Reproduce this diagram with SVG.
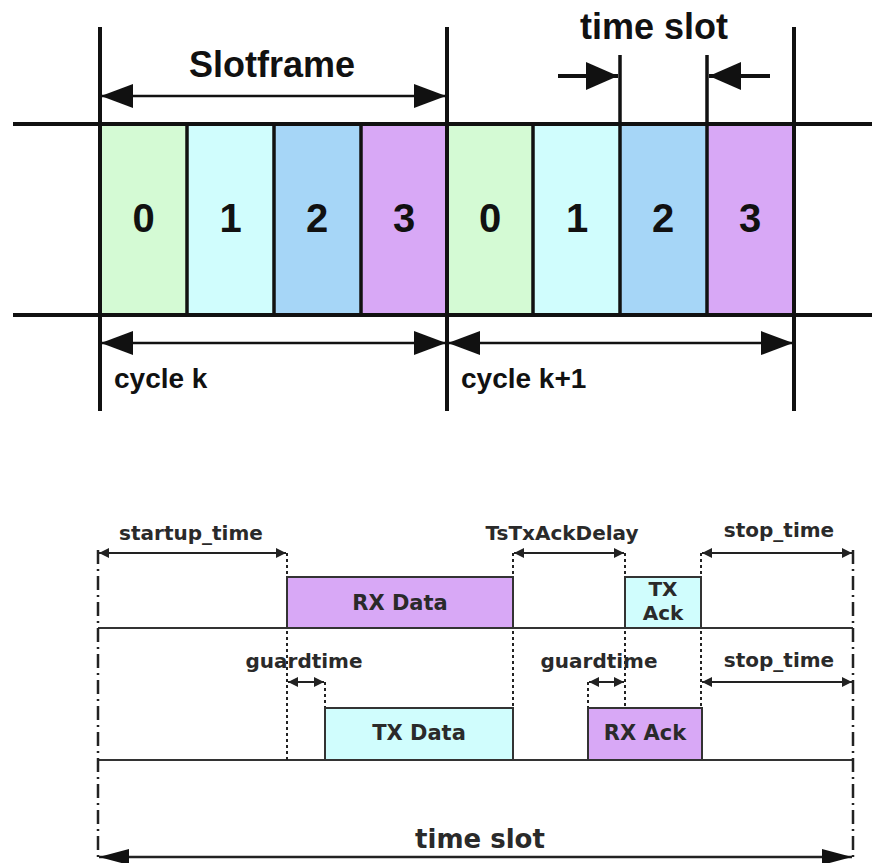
<svg xmlns="http://www.w3.org/2000/svg" width="872" height="863" viewBox="0 0 872 863">
<style>
.bg{fill:#fff}
.c0{fill:#d4fad4}.c1{fill:#d0fdfd}.c2{fill:#a6d6f7}.c3{fill:#d8a8f6}
.div{stroke:#111;stroke-width:3.5}
.big{stroke:#111;stroke-width:4;fill:none}
.top{font-family:"Liberation Sans",Arial,sans-serif;font-weight:bold;fill:#111}
.dig{font-family:"Liberation Sans",Arial,sans-serif;font-weight:bold;font-size:40px;fill:#111;text-anchor:middle}
.shaft{stroke:#111;stroke-width:2.5;fill:none}
.lbl{font-family:"DejaVu Sans",Verdana,sans-serif;font-weight:bold;fill:#2a2a2a}
.box{stroke:#333;stroke-width:2}
.row{stroke:#333;stroke-width:2;fill:none}
.dot{stroke:#222;stroke-width:2;stroke-dasharray:3 3;fill:none}
.dash{stroke:#222;stroke-width:2.5;stroke-dasharray:14 5 2 5;fill:none}
.sa{stroke:#222;stroke-width:2;fill:none}
</style>
<defs>
<marker id="bigA" markerUnits="userSpaceOnUse" markerWidth="34" markerHeight="26" refX="32" refY="12" orient="auto-start-reverse">
<path d="M0,0 L32,12 L0,24 z" fill="#111"/>
</marker>
<marker id="midA" markerUnits="userSpaceOnUse" markerWidth="34" markerHeight="30" refX="32" refY="14" orient="auto-start-reverse">
<path d="M0,0 L32,14 L0,28 z" fill="#111"/>
</marker>
<marker id="smA" markerUnits="userSpaceOnUse" markerWidth="12" markerHeight="10" refX="10" refY="5" orient="auto-start-reverse">
<path d="M0,0 L10,5 L0,10 z" fill="#222"/>
</marker>
<marker id="tsA" markerUnits="userSpaceOnUse" markerWidth="32" markerHeight="18" refX="30" refY="8" orient="auto-start-reverse">
<path d="M0,0 L30,8 L0,16 z" fill="#111"/>
</marker>
</defs>
<rect class="bg" x="0" y="0" width="872" height="863"/>

<g id="cells-cycle-k">
<g id="cell-k-0"><rect class="c0" x="100" y="124" width="87" height="191"/><text class="dig" x="143.5" y="232">0</text></g>
<g id="cell-k-1"><rect class="c1" x="187" y="124" width="87" height="191"/><text class="dig" x="230.5" y="232">1</text></g>
<g id="cell-k-2"><rect class="c2" x="274" y="124" width="87" height="191"/><text class="dig" x="317" y="232">2</text></g>
<g id="cell-k-3"><rect class="c3" x="361" y="124" width="86" height="191"/><text class="dig" x="404" y="232">3</text></g>
</g>
<g id="cells-cycle-k1">
<g id="cell-k1-0"><rect class="c0" x="447" y="124" width="86" height="191"/><text class="dig" x="490" y="232">0</text></g>
<g id="cell-k1-1"><rect class="c1" x="533" y="124" width="87" height="191"/><text class="dig" x="577" y="232">1</text></g>
<g id="cell-k1-2"><rect class="c2" x="620" y="124" width="87" height="191"/><text class="dig" x="663" y="232">2</text></g>
<g id="cell-k1-3"><rect class="c3" x="707" y="124" width="86" height="191"/><text class="dig" x="750" y="232">3</text></g>
</g>

<g id="frame-lines">
<line class="div" x1="187" y1="124" x2="187" y2="315"/>
<line class="div" x1="274" y1="124" x2="274" y2="315"/>
<line class="div" x1="361" y1="124" x2="361" y2="315"/>
<line class="div" x1="533" y1="124" x2="533" y2="315"/>
<line class="div" x1="620" y1="55" x2="620" y2="315"/>
<line class="div" x1="707" y1="55" x2="707" y2="315"/>
<line class="big" x1="100" y1="27" x2="100" y2="411"/>
<line class="big" x1="447" y1="27" x2="447" y2="411"/>
<line class="big" x1="794" y1="27" x2="794" y2="411"/>
<line class="big" x1="13" y1="124" x2="872" y2="124"/>
<line class="big" x1="13" y1="315" x2="872" y2="315"/>
</g>

<g id="top-labels">
<text class="top" x="272" y="77" font-size="36" text-anchor="middle">Slotframe</text>
<text class="top" x="654" y="39" font-size="36" text-anchor="middle">time slot</text>
<text class="top" x="114" y="388" font-size="28">cycle k</text>
<text class="top" x="461" y="388" font-size="28">cycle k+1</text>
</g>

<g id="bottom-guides">
<line class="row" x1="98" y1="628" x2="853" y2="628"/>
<line class="row" x1="98" y1="760" x2="853" y2="760"/>
<line class="dash" x1="98" y1="550" x2="98" y2="858"/>
<line class="dash" x1="853" y1="550" x2="853" y2="858"/>
<line class="dot" x1="287" y1="553" x2="287" y2="760"/>
<line class="dot" x1="513" y1="553" x2="513" y2="708"/>
<line class="dot" x1="625" y1="553" x2="625" y2="708"/>
<line class="dot" x1="701" y1="553" x2="701" y2="708"/>
<line class="dot" x1="325" y1="682" x2="325" y2="708"/>
<line class="dot" x1="588" y1="682" x2="588" y2="708"/>
</g>

<g id="rx-data"><rect class="box c3" x="287" y="577" width="226" height="51"/><text class="lbl" x="400" y="610" font-size="21" text-anchor="middle">RX Data</text></g>
<g id="tx-ack"><rect class="box c1" x="625" y="577" width="76" height="51"/><text class="lbl" x="663" y="596" font-size="20" text-anchor="middle">TX</text><text class="lbl" x="663" y="620" font-size="20" text-anchor="middle">Ack</text></g>
<g id="tx-data"><rect class="box c1" x="325" y="708" width="188" height="52"/><text class="lbl" x="419" y="740" font-size="21" text-anchor="middle">TX Data</text></g>
<g id="rx-ack"><rect class="box c3" x="588" y="708" width="114" height="52"/><text class="lbl" x="645" y="740" font-size="21" text-anchor="middle">RX Ack</text></g>

<g id="bottom-labels">
<text class="lbl" x="191" y="540" font-size="20" text-anchor="middle">startup_time</text>
<text class="lbl" x="562" y="540" font-size="20" text-anchor="middle">TsTxAckDelay</text>
<text class="lbl" x="779" y="537" font-size="20" text-anchor="middle">stop_time</text>
<text class="lbl" x="304" y="668" font-size="20" text-anchor="middle">guardtime</text>
<text class="lbl" x="599" y="668" font-size="20" text-anchor="middle">guardtime</text>
<text class="lbl" x="779" y="667" font-size="20" text-anchor="middle">stop_time</text>
<text class="lbl" x="480" y="848" font-size="26" text-anchor="middle">time slot</text>
</g>

<g id="connectors">
<line class="shaft" x1="101" y1="96" x2="446" y2="96" marker-start="url(#bigA)" marker-end="url(#bigA)"/>
<line class="shaft" x1="101" y1="343" x2="446" y2="343" marker-start="url(#bigA)" marker-end="url(#bigA)"/>
<line class="shaft" x1="448" y1="343" x2="793" y2="343" marker-start="url(#bigA)" marker-end="url(#bigA)"/>
<line class="shaft" style="stroke-width:4" x1="558" y1="76" x2="618" y2="76" marker-end="url(#midA)"/>
<line class="shaft" style="stroke-width:4" x1="770" y1="76" x2="709" y2="76" marker-end="url(#midA)"/>
<line class="sa" x1="99" y1="553" x2="286" y2="553" marker-start="url(#smA)" marker-end="url(#smA)"/>
<line class="sa" x1="514" y1="553" x2="624" y2="553" marker-start="url(#smA)" marker-end="url(#smA)"/>
<line class="sa" x1="702" y1="553" x2="852" y2="553" marker-start="url(#smA)" marker-end="url(#smA)"/>
<line class="sa" x1="288" y1="682" x2="324" y2="682" marker-start="url(#smA)" marker-end="url(#smA)"/>
<line class="sa" x1="589" y1="682" x2="624" y2="682" marker-start="url(#smA)" marker-end="url(#smA)"/>
<line class="sa" x1="702" y1="682" x2="852" y2="682" marker-start="url(#smA)" marker-end="url(#smA)"/>
<line class="sa" style="stroke-width:2.5" x1="99" y1="857" x2="852" y2="857" marker-start="url(#tsA)" marker-end="url(#tsA)"/>
</g>
</svg>
